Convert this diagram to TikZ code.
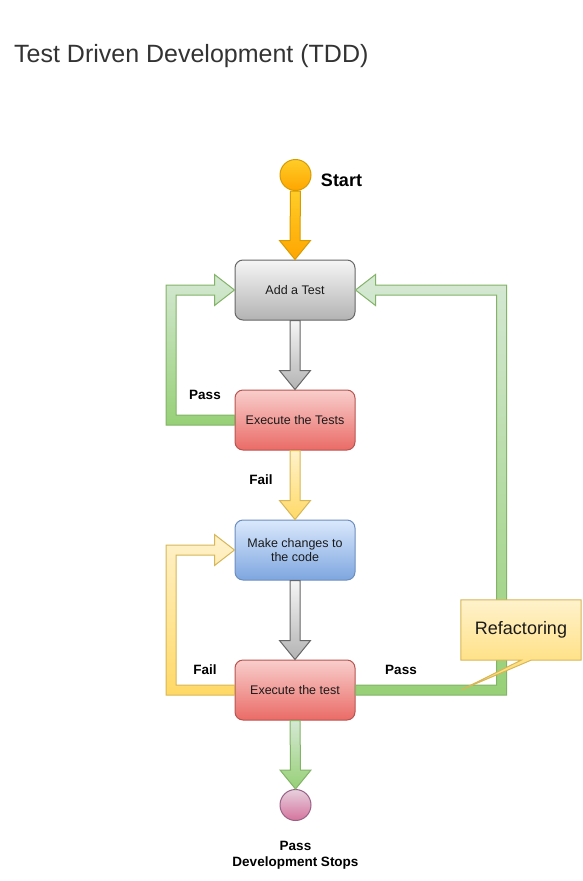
\documentclass[tikz,border=0pt]{standalone}
\usepackage{fontspec}
\setmainfont{Liberation Sans}
\usetikzlibrary{calc}
\definecolor{txt}{HTML}{1A1A1A}
\definecolor{titlegray}{HTML}{333333}
\definecolor{Torange}{HTML}{FFCD28}
\definecolor{Borange}{HTML}{FFA500}
\definecolor{Dorange}{HTML}{D79B00}
\definecolor{Tgray}{HTML}{F5F5F5}
\definecolor{Bgray}{HTML}{B3B3B3}
\definecolor{Dgray}{HTML}{666666}
\definecolor{Tred}{HTML}{F8CECC}
\definecolor{Bred}{HTML}{EA6B66}
\definecolor{Dred}{HTML}{B85450}
\definecolor{Tyellow}{HTML}{FFF2CC}
\definecolor{Byellow}{HTML}{FFD966}
\definecolor{Dyellow}{HTML}{D6B656}
\definecolor{Tblue}{HTML}{DAE8FC}
\definecolor{Bblue}{HTML}{7EA6E0}
\definecolor{Dblue}{HTML}{6C8EBF}
\definecolor{Tgreen}{HTML}{D5E8D4}
\definecolor{Bgreen}{HTML}{97D077}
\definecolor{Dgreen}{HTML}{82B366}
\definecolor{Tpink}{HTML}{E6D0DE}
\definecolor{Bpink}{HTML}{D5739D}
\definecolor{Dpink}{HTML}{996185}
\begin{document}
\begin{tikzpicture}[x=1pt,y=-1pt,
    flow/.style={draw=D#1, top color=T#1, bottom color=B#1, line width=1pt},
    stage/.style={flow=#1, rounded corners=8pt, minimum width=120pt,
      minimum height=60pt, align=center, text=txt,
      font=\fontsize{12.5}{14}\selectfont},
    dot/.style={flow=#1, circle, minimum size=31pt, inner sep=0pt},
    tag/.style={text=black, font=\fontsize{13.5}{16}\selectfont\bfseries}]
  \useasboundingbox (0,0) rectangle (582,881);
  \node [anchor=base west, inner sep=0pt, text=titlegray,
    font=\fontsize{25}{28}\selectfont] (title) at (14,62)
    {Test Driven Development (TDD)};
  % steps
  \node [dot=orange] (start) at (295.5,175) {};
  \node [tag, font=\fontsize{18}{21}\selectfont\bfseries] (starttag)
    at (341.5,180) {Start};
  \node [stage=gray] (add) at (295,290) {Add a Test};
  \node [stage=red] (run) at (295,420) {Execute the Tests};
  \node [stage=blue] (change) at (295,550) {Make changes to\\the code};
  \node [stage=red] (check) at (295,690) {Execute the test};
  \node [dot=pink] (stop) at (295.5,805) {};
  \node [tag, align=center] (stoptag) at (295.5,855) {Pass\\Development Stops};
  % straight arrows
  \foreach \src/\dst/\col in {start/add/orange, add/run/gray, run/change/yellow,
      change/check/gray, check/stop/green}
    \path [flow=\col] ($(\src.south)+(-5,0)$) -- ($(\dst.north)+(-5,-19)$)
      -- ($(\dst.north)+(-15.5,-19)$) -- (\dst.north)
      -- ($(\dst.north)+(15.5,-19)$) -- ($(\dst.north)+(5,-19)$)
      -- ($(\src.south)+(5,0)$) -- cycle;
  % loops back
  \foreach \src/\dst/\sd/\sg/\dx/\col in {run/add/west/1/63.5/green,
      check/change/west/1/63.5/yellow, check/add/east/-1/146/green}
    \path [flow=\col] ($(\src.\sd)+(0,5)$) -- ($(\src.\sd)+({-\sg*(\dx+5)},5)$)
      -- ($(\src.\sd |- \dst.\sd)+({-\sg*(\dx+5)},-5)$)
      -- ($(\dst.\sd)+({-\sg*20},-5)$) -- ($(\dst.\sd)+({-\sg*20},-15.5)$)
      -- (\dst.\sd) -- ($(\dst.\sd)+({-\sg*20},15.5)$)
      -- ($(\dst.\sd)+({-\sg*20},5)$)
      -- ($(\src.\sd |- \dst.\sd)+({-\sg*(\dx-5)},5)$)
      -- ($(\src.\sd)+({-\sg*(\dx-5)},-5)$) -- ($(\src.\sd)+(0,-5)$) -- cycle;
  \node [tag] (pass1) at (205,395) {Pass};
  \node [tag] (fail1) at (261,480) {Fail};
  \node [tag] (fail2) at (205,670) {Fail};
  \node [tag] (pass2) at (401,670) {Pass};
  % callout
  \node [minimum width=120pt, minimum height=60pt] (refac) at (521,630) {};
  \coordinate (reftip) at (461,690);
  \path [flow=yellow] (refac.north west) -- (refac.north east)
    -- (refac.south east) -- ($(refac.south)+(10,0)$) -- (reftip)
    -- (refac.south) -- (refac.south west) -- cycle;
  \node [text=txt, font=\fontsize{18}{21}\selectfont] (reftext)
    at (refac.center) {Refactoring};
\end{tikzpicture}
\end{document}
